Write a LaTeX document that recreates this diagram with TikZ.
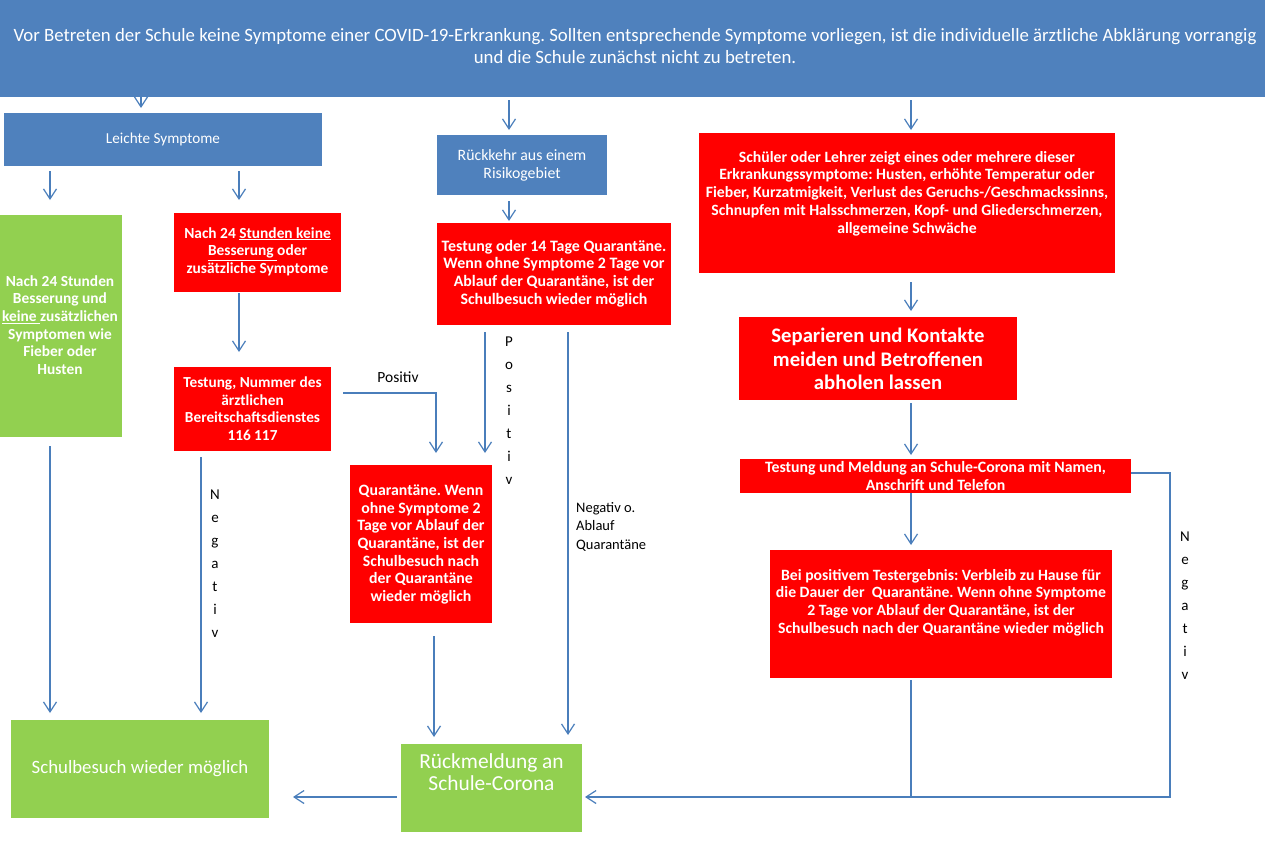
\documentclass[tikz,border=0pt]{standalone}
\usepackage{fontspec}
\setmainfont{Carlito}
\usetikzlibrary{arrows.meta}
\frenchspacing
\definecolor{hblue}{RGB}{79,129,189}
\definecolor{lblue}{RGB}{74,126,187}
\definecolor{hred}{RGB}{255,0,0}
\definecolor{hgreen}{RGB}{146,208,80}
\tikzset{
  boxbase/.style={draw=none,inner sep=0pt,outer sep=0pt,anchor=center},
  bluebox/.style={boxbase,fill=hblue},
  redbox/.style={boxbase,fill=hred},
  greenbox/.style={boxbase,fill=hgreen},
  wtxt/.style={text=white,align=center,inner sep=0pt},
  btxt/.style={text=black,inner sep=0pt},
  conn/.style={draw=lblue,line width=1.2pt},
  arr/.style={conn,-{Straight Barb[length=10pt,width=13pt,line width=1.2pt]}},
  vlab/.style={btxt,align=center,font=\fontsize{15}{23}\selectfont}
}
\begin{document}
\begin{tikzpicture}[x=1pt,y=-1pt]
\useasboundingbox (0,0) rectangle (1265,851);
% boxes
\node[bluebox,minimum width=1265,minimum height=97] (hdr) at (632.5,48.5) {};
\node[bluebox,minimum width=318,minimum height=53] (lsym) at (163,139.5) {};
\node[greenbox,minimum width=122,minimum height=222] (g1) at (61,326) {};
\node[redbox,minimum width=167,minimum height=79] (r1) at (257.5,252.5) {};
\node[redbox,minimum width=157,minimum height=84] (r2) at (252.5,409) {};
\node[bluebox,minimum width=170,minimum height=60] (rk) at (522,165) {};
\node[redbox,minimum width=234,minimum height=102] (rt) at (554,274) {};
\node[redbox,minimum width=142,minimum height=158] (rq) at (421,544) {};
\node[greenbox,minimum width=181,minimum height=88] (gR) at (491.5,788) {};
\node[greenbox,minimum width=258,minimum height=98] (gS) at (140,769) {};
\node[redbox,minimum width=416,minimum height=140] (rS) at (907,203) {};
\node[redbox,minimum width=278,minimum height=83] (rSep) at (878,358.5) {};
\node[redbox,minimum width=391,minimum height=34] (rTM) at (935.5,476) {};
\node[redbox,minimum width=342,minimum height=128] (rB) at (941,614) {};
% texts
\node[wtxt,font=\fontsize{18.8}{22}\selectfont] (t-hdr) at (635,46) {Vor Betreten der Schule keine Symptome einer COVID-19-Erkrankung. Sollten entsprechende Symptome vorliegen, ist die individuelle ärztliche Abklärung vorrangig\\und die Schule zunächst nicht zu betreten.};
\node[wtxt,font=\fontsize{15.2}{17}\selectfont] (t-lsym) at (163,139) {Leichte Symptome};
\node[wtxt,font=\bfseries\fontsize{15.4}{17.6}\selectfont] (t-g1) at (60,325) {Nach 24 Stunden\\Besserung und\\\underline{keine\ }zusätzlichen\\Symptomen wie\\Fieber oder\\Husten};
\node[wtxt,font=\bfseries\fontsize{15.4}{17.6}\selectfont] (t-r1) at (257.5,251.5) {Nach 24 \underline{Stunden keine}\\\underline{Besserung\ }oder\\zusätzliche Symptome};
\node[wtxt,font=\bfseries\fontsize{15.3}{17.6}\selectfont] (t-r2) at (252.5,408.5) {Testung, Nummer des\\ärztlichen\\Bereitschaftsdienstes\\116 117};
\node[wtxt,font=\fontsize{15.8}{18}\selectfont] (t-rk) at (522,165) {Rückkehr aus einem\\Risikogebiet};
\node[wtxt,font=\bfseries\fontsize{15.9}{17.8}\selectfont] (t-rt) at (554,273.5) {Testung oder 14 Tage Quarantäne.\\Wenn ohne Symptome 2 Tage vor\\Ablauf der Quarantäne, ist der\\Schulbesuch wieder möglich};
\node[wtxt,font=\bfseries\fontsize{15.8}{17.6}\selectfont] (t-rq) at (421,544.5) {Quarantäne. Wenn\\ohne Symptome 2\\Tage vor Ablauf der\\Quarantäne, ist der\\Schulbesuch nach\\der Quarantäne\\wieder möglich};
\node[wtxt,font=\fontsize{21.4}{22}\selectfont] (t-gR) at (491.5,772.5) {Rückmeldung an\\Schule-Corona};
\node[wtxt,font=\fontsize{18.8}{20}\selectfont] (t-gS) at (140,769) {Schulbesuch wieder möglich};
\node[wtxt,font=\bfseries\fontsize{15.7}{17.8}\selectfont] (t-rS) at (907,193.5) {Schüler oder Lehrer zeigt eines oder mehrere dieser\\Erkrankungssymptome: Husten, erhöhte Temperatur oder\\Fieber, Kurzatmigkeit, Verlust des Geruchs-/Geschmackssinns,\\Schnupfen mit Halsschmerzen, Kopf- und Gliederschmerzen,\\allgemeine Schwäche};
\node[wtxt,font=\bfseries\fontsize{20.7}{23.3}\selectfont] (t-rSep) at (878,359) {Separieren und Kontakte\\meiden und Betroffenen\\abholen lassen};
\node[wtxt,font=\bfseries\fontsize{15.8}{18}\selectfont] (t-rTM) at (935.5,476) {Testung und Meldung an Schule-Corona mit Namen,\\Anschrift und Telefon};
\node[wtxt,font=\bfseries\fontsize{15.7}{17.6}\selectfont] (t-rB) at (941,602.5) {Bei positivem Testergebnis: Verbleib zu Hause für\\die Dauer der\ \ Quarantäne. Wenn ohne Symptome\\2 Tage vor Ablauf der Quarantäne, ist der\\Schulbesuch nach der Quarantäne wieder möglich};
% labels
\node[btxt,font=\fontsize{15.5}{17}\selectfont] (l-pos) at (398,377) {Positiv};
\node[vlab] (l-pos2) at (509,411) {P\\o\\s\\i\\t\\i\\v};
\node[btxt,align=left,anchor=west,font=\fontsize{14.5}{18.5}\selectfont] (l-negq) at (576,526.5) {Negativ o.\\Ablauf\\Quarantäne};
\node[vlab] (l-neg1) at (215,564) {N\\e\\g\\a\\t\\i\\v};
\node[vlab] (l-neg2) at (1185,605.5) {N\\e\\g\\a\\t\\i\\v};
% connectors
\draw[arr,shorten >=5pt] ([xshift=141]hdr.south west) -- ([xshift=137]lsym.north west);
\draw[arr,shorten <=3pt,shorten >=5pt] ([xshift=509]hdr.south west) -- ([xshift=72]rk.north west);
\draw[arr,shorten <=3pt,shorten >=3pt] ([xshift=911]hdr.south west) -- ([xshift=212]rS.north west);
\draw[arr,shorten <=5pt,shorten >=15pt] ([xshift=46]lsym.south west) -- ([xshift=50]g1.north west);
\draw[arr,shorten <=5pt,shorten >=13pt] ([xshift=235]lsym.south west) -- ([xshift=65]r1.north west);
\draw[arr,shorten <=1pt,shorten >=15pt] ([xshift=65]r1.south west) -- ([xshift=65]r2.north west);
\draw[arr,shorten <=6pt,shorten >=2pt] ([xshift=72]rk.south west) -- ([xshift=72]rt.north west);
\draw[arr,shorten >=12pt] ([xshift=12,yshift=16]r2.east) -| ([xshift=86]rq.north west);
\draw[arr,shorten <=7pt,shorten >=12pt] ([xshift=48]rt.south west) -- ([xshift=135]rq.north west);
\draw[arr,shorten <=7pt,shorten >=9pt] ([xshift=131]rt.south west) -- ([xshift=167]gR.north west);
\draw[arr,shorten <=13pt,shorten >=7pt] ([xshift=84]rq.south west) -- ([xshift=33]gR.north west);
\draw[arr,shorten <=9pt,shorten >=7pt] ([xshift=50]g1.south west) -- ([xshift=39]gS.north west);
\draw[arr,shorten <=6pt,shorten >=7pt] ([xshift=27]r2.south west) -- ([xshift=190]gS.north west);
\draw[arr,shorten <=4pt,shorten >=24pt] ([yshift=-9]gR.west) -- ([yshift=-28]gS.east);
\draw[arr,shorten <=9pt,shorten >=6pt] ([xshift=212]rS.south west) -- ([xshift=172]rSep.north west);
\draw[arr,shorten <=3pt,shorten >=4pt] ([xshift=172]rSep.south west) -- ([xshift=171]rTM.north west);
\draw[arr,shorten >=5pt] ([xshift=171]rTM.south west) -- ([xshift=141]rB.north west);
\coordinate (cR) at (1170,797);
\coordinate (jB) at (911,797);
\draw[arr,shorten >=3pt] ([yshift=3]rTM.east) -| (cR) -- ([yshift=-9]gR.east);
\draw[conn,shorten <=2pt] ([xshift=141]rB.south west) -- (jB);
\end{tikzpicture}
\end{document}
